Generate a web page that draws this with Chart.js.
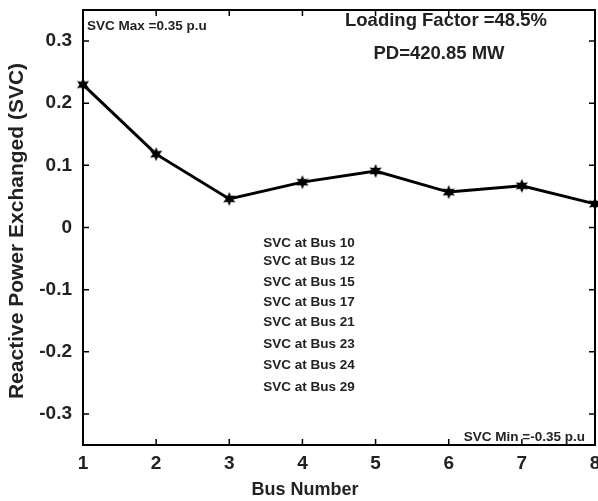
<!DOCTYPE html>
<html>
<head>
<meta charset="utf-8">
<script src="https://cdn.jsdelivr.net/npm/chart.js@4/dist/chart.umd.min.js"></script>
<style>
  html, body { margin: 0; padding: 0; background: #fff; }
  #wrap { width: 598px; height: 501px; }
</style>
</head>
<body>
<div id="wrap"><canvas id="grafico"></canvas></div>
<script>
// Datos
const buses = [1, 2, 3, 4, 5, 6, 7, 8];
const qSvc = [0.230, 0.118, 0.046, 0.073, 0.091, 0.057, 0.067, 0.038];
const yTicks = [-0.3, -0.2, -0.1, 0, 0.1, 0.2, 0.3];
const svcList = ['SVC at Bus 10', 'SVC at Bus 12', 'SVC at Bus 15', 'SVC at Bus 17',
                 'SVC at Bus 21', 'SVC at Bus 23', 'SVC at Bus 24', 'SVC at Bus 29'];

const FONT = '"Liberation Sans", Arial, sans-serif';

// marcador estrella de 6 puntas
function makeStar(r) {
    const c = document.createElement('canvas');
    const s = Math.ceil(r * 2 + 2);
    c.width = s; c.height = s;
    const g = c.getContext('2d');
    g.fillStyle = '#000';
    g.beginPath();
    for (let i = 0; i < 12; i++) {
        const rad = (i % 2 === 0) ? r : r * 0.5;
        const a = -Math.PI / 2 + i * Math.PI / 6;
        const px = s / 2 + rad * Math.cos(a);
        const py = s / 2 + rad * Math.sin(a);
        if (i === 0) g.moveTo(px, py); else g.lineTo(px, py);
    }
    g.closePath();
    g.fill();
    return c;
}
const star = makeStar(7);

// sin relleno automatico por las etiquetas de los extremos
function noPad(s) {
    s.paddingLeft = 0; s.paddingRight = 0;
    s.paddingTop = 0; s.paddingBottom = 0;
}

// Marco, ticks hacia adentro y textos
const decoPlugin = {
    id: 'deco',
    afterDraw(chart) {
        const ctx = chart.ctx;
        const a = chart.chartArea;
        const xs = chart.scales.x, ys = chart.scales.y;
        ctx.save();
        ctx.strokeStyle = '#000';
        ctx.lineWidth = 2;
        ctx.strokeRect(a.left, a.top, a.right - a.left, a.bottom - a.top);
        ctx.lineWidth = 1.5;
        ctx.beginPath();
        buses.forEach(b => {
            const px = xs.getPixelForValue(b);
            ctx.moveTo(px, a.bottom); ctx.lineTo(px, a.bottom - 6);
            ctx.moveTo(px, a.top); ctx.lineTo(px, a.top + 6);
        });
        yTicks.forEach(v => {
            const py = ys.getPixelForValue(v);
            ctx.moveTo(a.left, py); ctx.lineTo(a.left + 6, py);
            ctx.moveTo(a.right, py); ctx.lineTo(a.right - 6, py);
        });
        ctx.stroke();

        ctx.fillStyle = '#222';
        ctx.textBaseline = 'middle';
        ctx.font = 'bold 13.5px ' + FONT;
        ctx.textAlign = 'left';
        ctx.fillText('SVC Max =0.35 p.u', a.left + 4, a.top + 16);
        ctx.textAlign = 'right';
        ctx.fillText('SVC Min =-0.35 p.u', a.right - 10, a.bottom - 8);

        ctx.textAlign = 'center';
        ctx.font = 'bold 18.5px ' + FONT;
        ctx.fillText('Loading Factor =48.5%', 446, 21);
        ctx.fillText('PD=420.85 MW', 439, 54);

        ctx.font = 'bold 13.5px ' + FONT;
        const ly = [243, 261, 282, 302, 322, 344, 365, 387];
        svcList.forEach((t, i) => ctx.fillText(t, 309, ly[i]));

        // titulos de ejes
        ctx.font = 'bold 18px ' + FONT;
        ctx.fillText('Bus Number', 305, 490);
        ctx.font = 'bold 21px ' + FONT;
        ctx.translate(17, 231);
        ctx.rotate(-Math.PI / 2);
        ctx.fillText('Reactive Power Exchanged (SVC)', 0, 0);
        ctx.restore();
    }
};

new Chart(document.getElementById('grafico').getContext('2d'), {
    type: 'line',
    data: {
        datasets: [{
            data: buses.map((b, i) => ({ x: b, y: qSvc[i] })),
            borderColor: '#000',
            backgroundColor: '#000',
            borderWidth: 3,
            pointStyle: star,
            pointRadius: 7,
            tension: 0,
            clip: false
        }]
    },
    options: {
        responsive: true,
        maintainAspectRatio: false,
        animation: false,
        layout: { autoPadding: false, padding: { top: 10, right: 3, left: 0, bottom: 0 } },
        plugins: { legend: { display: false }, tooltip: { enabled: false } },
        scales: {
            x: {
                type: 'linear',
                min: 1, max: 8,
                grid: { display: false, drawTicks: false },
                border: { display: false },
                afterFit: s => { s.height = 56; noPad(s); },
                afterBuildTicks: s => { s.ticks = buses.map(v => ({ value: v })); },
                ticks: {
                    color: '#222',
                    padding: 7,
                    maxRotation: 0,
                    font: { family: FONT, size: 19, weight: 'bold' }
                }
            },
            y: {
                min: -0.35, max: 0.35,
                grid: { display: false, drawTicks: false },
                border: { display: false },
                afterFit: s => { s.width = 83; noPad(s); },
                afterBuildTicks: s => { s.ticks = yTicks.map(v => ({ value: v })); },
                ticks: {
                    color: '#222',
                    padding: 11,
                    font: { family: FONT, size: 19, weight: 'bold' },
                    callback: v => String(Math.round(v * 10) / 10)
                }
            }
        }
    },
    plugins: [decoPlugin]
});
</script>
</body>
</html>
